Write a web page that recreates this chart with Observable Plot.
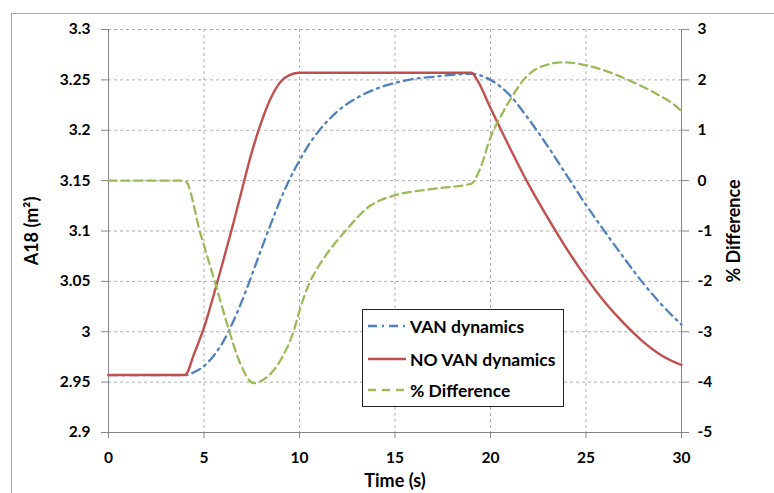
<!DOCTYPE html>
<html>
<head>
<meta charset="utf-8">
<script src="https://cdn.jsdelivr.net/npm/d3@7"></script>
<script src="https://cdn.jsdelivr.net/npm/@observablehq/plot@0.6"></script>
<style>
  html, body { margin: 0; padding: 0; background: #fff; }
  #wrap { position: relative; width: 774px; height: 493px; overflow: hidden; font-family: Lato, "Open Sans", sans-serif; }
  #outline { position: absolute; left: 11px; top: 13px; width: 800px; height: 520px;
             border-left: 1.5px solid #a8a8a8; border-top: 1.5px solid #a8a8a8; pointer-events: none; }
  #legend { position: absolute; left: 362px; top: 309px; width: 202px; height: 98px;
            background: #fff; border: 1px solid #222; box-sizing: border-box; }
  #legend .row { position: absolute; left: 5px; height: 22px; display: flex; align-items: center;
                 font-weight: bold; font-size: 17.5px; color: #000; white-space: nowrap; }
  #legend svg { margin-right: 4px; }
</style>
</head>
<body>
<div id="wrap">
  <div id="chart"></div>
  <div id="outline"></div>
  <div id="legend"></div>
</div>
<script>
// A18 area, VAN dynamics (time s, m²)
const vanTime = [0, 4, 4.5, 5, 5.5, 6, 6.5, 7, 7.5, 8, 8.5, 9, 9.5, 10, 10.5, 11, 12, 13, 14, 15, 16, 17, 18, 19, 20, 21, 22, 23, 24, 25, 26, 27, 28, 29, 30];
const vanArea = [2.957, 2.957, 2.960, 2.966, 2.976, 2.990, 3.009, 3.031, 3.056, 3.082, 3.107, 3.131, 3.152, 3.170, 3.186, 3.199, 3.219, 3.232, 3.241, 3.247, 3.251, 3.253, 3.255, 3.256, 3.250, 3.235, 3.211, 3.184, 3.155, 3.126, 3.099, 3.073, 3.048, 3.026, 3.007];

// A18 area, NO VAN dynamics
const noVanTime = [0, 4, 4.5, 5, 5.5, 6, 6.5, 7, 7.5, 8, 8.5, 9, 9.5, 10, 19, 19.3, 20, 21, 22, 23, 24, 25, 26, 27, 28, 29, 30];
const noVanArea = [2.957, 2.957, 2.979, 3.004, 3.036, 3.070, 3.105, 3.142, 3.178, 3.208, 3.232, 3.248, 3.255, 3.257, 3.257, 3.250, 3.222, 3.183, 3.146, 3.113, 3.082, 3.054, 3.029, 3.008, 2.990, 2.976, 2.967];

// Percentage difference between the two (right axis)
const diffTime = [0, 4, 4.82, 5.6, 6.26, 6.91, 7.6, 8.3, 9.09, 9.7, 10.05, 10.5, 11, 11.5, 12.4, 13.7, 14.24, 14.9, 16.86, 19, 19.48, 20, 20.6, 21.05, 21.92, 22.79, 23.84, 24.88, 26.45, 27.49, 28.7, 29.74, 30];
const diffPct = [0, 0, -1.06, -2.05, -2.91, -3.64, -4.02, -3.9, -3.51, -2.98, -2.52, -2.05, -1.7, -1.42, -1.0, -0.5, -0.39, -0.3, -0.17, -0.06, 0.26, 0.86, 1.32, 1.62, 2.08, 2.28, 2.35, 2.3, 2.12, 1.95, 1.72, 1.47, 1.38];

const xTicks = [0, 5, 10, 15, 20, 25, 30];
const leftTicks = [2.9, 2.95, 3, 3.05, 3.1, 3.15, 3.2, 3.25, 3.3];
const rightTicks = [-5, -4, -3, -2, -1, 0, 1, 2, 3];

const seriesNames = ["VAN dynamics", "NO VAN dynamics", "% Difference"];
const colors = { van: "#4f81bd", noVan: "#c0504d", diff: "#9bbb59" };

// the % axis shares the frame: -5..3 spans the same height as 2.9..3.3
const pctToArea = p => 3.15 + p * 0.05;
const areaToPct = a => Math.round((a - 3.15) / 0.05);

const van = vanTime.map((t, i) => ({t, v: vanArea[i]}));
const noVan = noVanTime.map((t, i) => ({t, v: noVanArea[i]}));
const diff = diffTime.map((t, i) => ({t, v: pctToArea(diffPct[i])}));

const axisGray = "#868686";
const gridGray = "#b0b0b0";
const titleSize = "18px";

const chart = Plot.plot({
  width: 774,
  height: 493,
  marginLeft: 108,
  marginRight: 93,
  marginTop: 29,
  marginBottom: 61,
  style: { fontFamily: "Lato, 'Open Sans', sans-serif", fontSize: "15.5px", fontWeight: "bold", color: "#000", background: "transparent" },
  x: { domain: [0, 30] },
  y: { domain: [2.9, 3.3] },
  marks: [
    Plot.gridX(xTicks.slice(1, -1), { stroke: gridGray, strokeOpacity: 1, strokeDasharray: "3,3" }),
    Plot.gridY(leftTicks.slice(1), { stroke: gridGray, strokeOpacity: 1, strokeDasharray: "3,3" }),
    Plot.ruleX([0, 30], { stroke: axisGray }),
    Plot.ruleY([2.9], { stroke: axisGray }),
    Plot.axisX(xTicks, { tickSize: 6, tickPadding: 13, stroke: axisGray, fill: "#000", tickFormat: d => String(d), label: null }),
    Plot.axisY(leftTicks, { anchor: "left", tickSize: 7, tickPadding: 11, stroke: axisGray, fill: "#000", tickFormat: d => String(+d.toFixed(2)), label: null }),
    Plot.axisY(rightTicks.map(pctToArea), { anchor: "right", tickSize: 7, tickPadding: 9, stroke: axisGray, fill: "#000", tickFormat: d => String(areaToPct(d)), label: null }),
    Plot.line(van, { x: "t", y: "v", stroke: colors.van, strokeWidth: 2.3, strokeDasharray: "9,5,2,5", curve: "monotone-x" }),
    Plot.line(noVan, { x: "t", y: "v", stroke: colors.noVan, strokeWidth: 2.4, curve: "monotone-x" }),
    Plot.line(diff, { x: "t", y: "v", stroke: colors.diff, strokeWidth: 2.3, strokeDasharray: "8,5", curve: "monotone-x" }),
    Plot.text(["A18 (m²)"], { frameAnchor: "left", textAnchor: "middle", dx: -76, rotate: -90, fill: "#000", fontSize: titleSize }),
    Plot.text(["% Difference"], { frameAnchor: "right", textAnchor: "middle", dx: 53, rotate: -90, fill: "#000", fontSize: titleSize }),
    Plot.text(["Time (s)"], { frameAnchor: "bottom", textAnchor: "middle", dy: 54, fill: "#000", fontSize: titleSize })
  ]
});
document.getElementById("chart").appendChild(chart);

// legend box
const legend = document.getElementById("legend");
const swatches = [
  { color: colors.van, dash: "9,5,2,5", top: 5 },
  { color: colors.noVan, dash: null, top: 38 },
  { color: colors.diff, dash: "8,6", top: 69 }
];
seriesNames.forEach((name, i) => {
  const s = swatches[i];
  const row = document.createElement("div");
  row.className = "row";
  row.style.top = s.top + "px";
  row.innerHTML = `<svg width="38" height="6"><line x1="0" y1="3" x2="38" y2="3" stroke="${s.color}" stroke-width="2.3" ${s.dash ? `stroke-dasharray="${s.dash}"` : ""}/></svg><span>${name}</span>`;
  legend.appendChild(row);
});
</script>
</body>
</html>
